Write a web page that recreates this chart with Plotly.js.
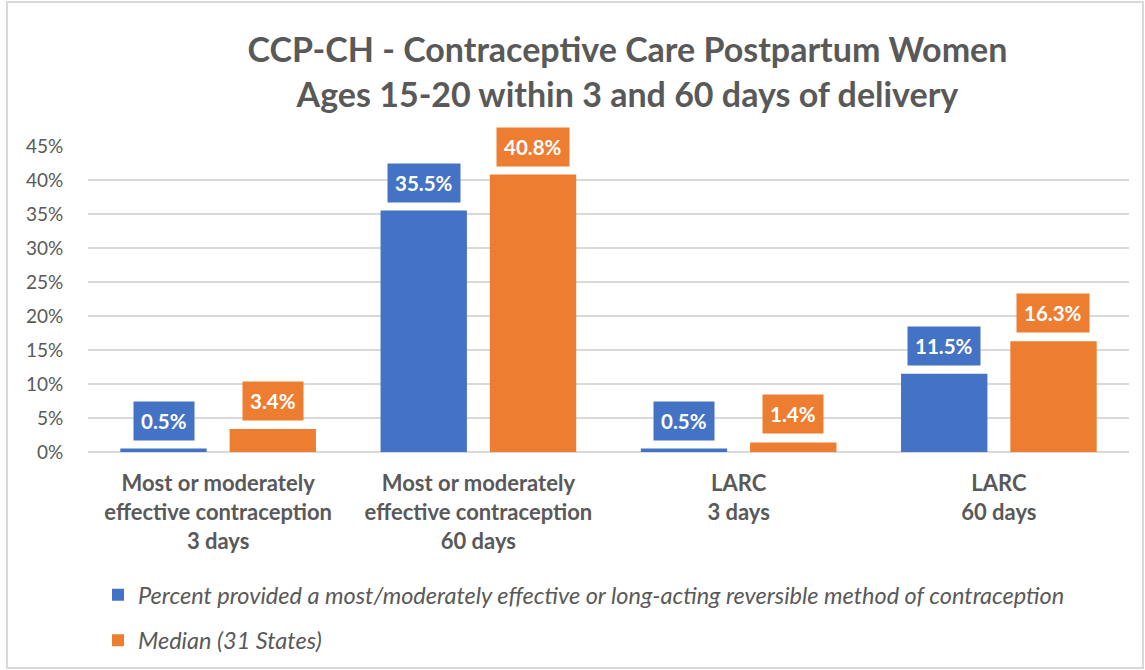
<!DOCTYPE html>
<html>
<head>
<meta charset="utf-8">
<script src="https://cdn.plot.ly/plotly-3.0.1.min.js"></script>
<style>
  html, body { margin: 0; padding: 0; background: #fff; }
  #chart { position: absolute; left: 0; top: 0; width: 1145px; height: 670px; }
  #frame { position: absolute; left: 6px; top: 1px; width: 1134px; height: 664px; border: 2px solid #d9d9d9; pointer-events: none; }
</style>
</head>
<body>
<div id="chart"></div>
<div id="frame"></div>
<script>
const categories = [
  "Most or moderately<br>effective contraception<br>3 days",
  "Most or moderately<br>effective contraception<br>60 days",
  "LARC<br>3 days",
  "LARC<br>60 days"
];
const seriesNames = [
  "Percent provided a most/moderately effective or long-acting reversible method of contraception",
  "Median (31 States)"
];
const percentValues = [0.5, 35.5, 0.5, 11.5];
const medianValues = [3.4, 40.8, 1.4, 16.3];
const yTickValues = [0, 5, 10, 15, 20, 25, 30, 35, 40, 45];
const yTickText = yTickValues.map(v => v + "%");

const BLUE = "#4472C4", ORANGE = "#ED7D31", GREY = "#595959";
const FONT = "Lato, 'Open Sans', sans-serif";

const traces = [
  { type: "bar", name: seriesNames[0], x: categories, y: percentValues,
    marker: { color: BLUE }, legendgroup: "a", hoverinfo: "skip" },
  { type: "bar", name: seriesNames[1], x: categories, y: medianValues,
    marker: { color: ORANGE }, legendgroup: "b", hoverinfo: "skip" }
];

const annotations = [];
[[percentValues, BLUE, -54.5], [medianValues, ORANGE, 54.5]].forEach(([vals, col, shift]) => {
  vals.forEach((v, i) => {
    annotations.push({
      x: categories[i], y: v, xref: "x", yref: "y",
      xshift: shift, yshift: 8, yanchor: "bottom", xanchor: "center",
      text: "<b>" + v.toFixed(1) + "%</b>", showarrow: false,
      bgcolor: col, borderpad: 7,
      font: { family: FONT, size: 20.5, color: "#ffffff" }
    });
  });
});

const layout = {
  width: 1145, height: 670,
  margin: { l: 88, r: 16, t: 146, b: 218, autoexpand: false },
  paper_bgcolor: "#ffffff", plot_bgcolor: "#ffffff",
  font: { family: FONT, color: GREY },
  title: {
    text: "<b>CCP-CH - Contraceptive Care Postpartum Women<br>Ages 15-20 within 3 and 60 days of delivery</b>",
    x: 0.548, xanchor: "center", xref: "container",
    y: 0.907, yanchor: "top", yref: "container",
    font: { family: FONT, size: 34, color: GREY }
  },
  barmode: "group", bargap: 0.16, bargroupgap: 0.21,
  xaxis: {
    type: "category", tickangle: 0, automargin: false,
    tickfont: { family: FONT, size: 22, color: GREY, weight: 700 },
    showgrid: false, zeroline: false, showline: false,
    ticks: "outside", ticklen: 12, tickcolor: "rgba(0,0,0,0)"
  },
  yaxis: {
    range: [0, 45], tickvals: yTickValues, ticktext: yTickText, automargin: false,
    tickfont: { family: FONT, size: 19, color: GREY },
    showgrid: true, gridcolor: "#d9d9d9", gridwidth: 1.3,
    zeroline: true, zerolinecolor: "#d9d9d9", zerolinewidth: 1.3,
    showline: false, ticks: "outside", ticklen: 20, tickcolor: "rgba(0,0,0,0)"
  },
  showlegend: true,
  legend: {
    orientation: "v", x: 0.0096, xref: "paper", xanchor: "left",
    y: -0.395, yref: "paper", yanchor: "top",
    traceorder: "grouped", tracegroupgap: 12,
    font: { family: FONT, size: 23.5, color: GREY, style: "italic" },
    bgcolor: "rgba(0,0,0,0)"
  },
  annotations: annotations
};

Plotly.newPlot("chart", traces, layout, { displayModeBar: false, staticPlot: true });
</script>
</body>
</html>
